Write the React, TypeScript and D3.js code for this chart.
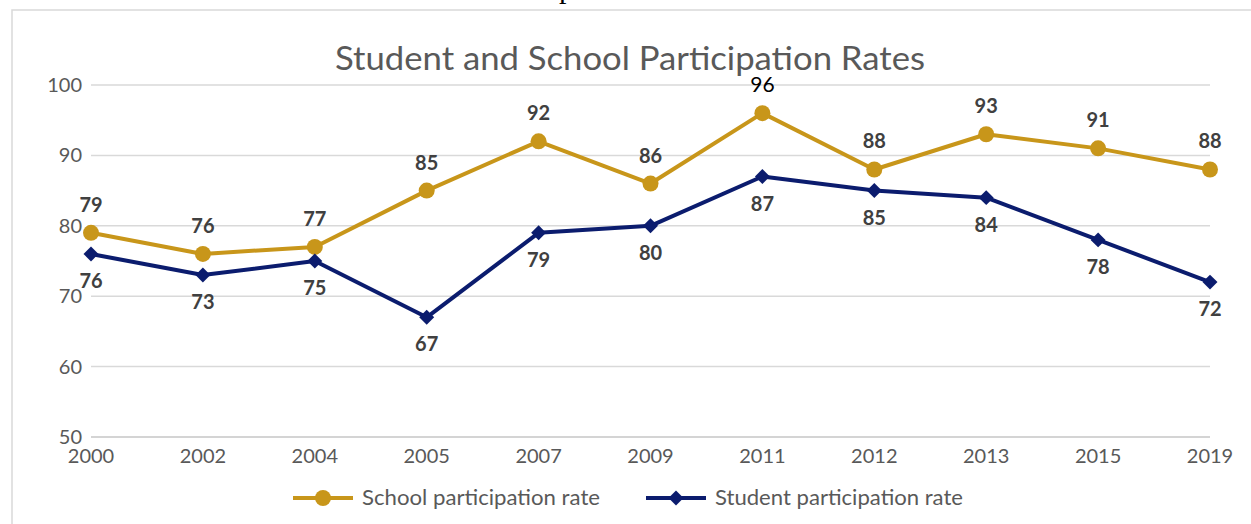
import React from "react";
import * as d3 from "d3";

const years = ["2000", "2002", "2004", "2005", "2007", "2009", "2011", "2012", "2013", "2015", "2019"];
const schoolRate = [79, 76, 77, 85, 92, 86, 96, 88, 93, 91, 88];
const studentRate = [76, 73, 75, 67, 79, 80, 87, 85, 84, 78, 72];
const yTicks = [50, 60, 70, 80, 90, 100];
const seriesNames = ["School participation rate", "Student participation rate"];
const title = "Student and School Participation Rates";

const GOLD = "#C8961A";
const NAVY = "#0B1C6E";
const FONT = "Lato, 'Open Sans', sans-serif";

export default function App() {
  const W = 1251, H = 524;
  const x = d3.scalePoint<string>().domain(years).range([91, 1210]);
  const y = d3.scaleLinear().domain([50, 100]).range([437, 85]);
  const line = d3.line<number>().x((_, i) => x(years[i])!).y((d) => y(d));
  const diamond = d3.symbol().type(d3.symbolSquare).size(112)();

  return (
    <svg width={W} height={H} style={{ position: "absolute", left: 0, top: 0, background: "#fff" }} fontFamily={FONT}>
      <text x={559} y={-2} fontFamily="'Liberation Serif', 'DejaVu Serif', serif" fontSize={30} fill="#000">p</text>
      <rect x={12} y={10} width={1300} height={600} fill="none" stroke="#d9d9d9" strokeWidth={1.5} />
      <text x={335} y={70} textLength={590} lengthAdjust="spacingAndGlyphs" fontSize={32} fill="#595959">{title}</text>
      {yTicks.map((t) => (
        <g key={t}>
          <line x1={91} x2={1210} y1={y(t)} y2={y(t)} stroke={t === 50 ? "#c6c6c6" : "#d9d9d9"} strokeWidth={1.5} />
          <text x={82} y={y(t) + 7} textAnchor="end" fontSize={20} fill="#595959">{t}</text>
        </g>
      ))}
      {years.map((yr) => (
        <text key={yr} x={x(yr)} y={463} textAnchor="middle" fontSize={20} fill="#595959">{yr}</text>
      ))}
      <path d={line(schoolRate)!} fill="none" stroke={GOLD} strokeWidth={4} strokeLinejoin="round" />
      <path d={line(studentRate)!} fill="none" stroke={NAVY} strokeWidth={4} strokeLinejoin="round" />
      {schoolRate.map((v, i) => (
        <circle key={"c" + i} cx={x(years[i])} cy={y(v)} r={8} fill={GOLD} />
      ))}
      {studentRate.map((v, i) => (
        <path key={"d" + i} d={diamond!} transform={`translate(${x(years[i])},${y(v)}) rotate(45)`} fill={NAVY} />
      ))}
      {schoolRate.map((v, i) => {
        const special = v === 96;
        return (
          <text key={"ls" + i} x={x(years[i])} y={y(v) - 21} textAnchor="middle" fontSize={special ? 21 : 20}
            fontWeight={special ? "normal" : "bold"} fill={special ? "#000" : "#404040"}>{v}</text>
        );
      })}
      {studentRate.map((v, i) => (
        <text key={"lt" + i} x={x(years[i])} y={y(v) + 34} textAnchor="middle" fontSize={20} fontWeight="bold" fill="#404040">{v}</text>
      ))}
      <g>
        <line x1={293} x2={353} y1={498} y2={498} stroke={GOLD} strokeWidth={4} />
        <circle cx={323} cy={498} r={8} fill={GOLD} />
        <text x={362} y={505} fontSize={21} textLength={238} lengthAdjust="spacingAndGlyphs" fill="#595959">{seriesNames[0]}</text>
        <line x1={646} x2={706} y1={498} y2={498} stroke={NAVY} strokeWidth={4} />
        <path d={diamond!} transform="translate(676,498) rotate(45)" fill={NAVY} />
        <text x={715} y={505} fontSize={21} textLength={248} lengthAdjust="spacingAndGlyphs" fill="#595959">{seriesNames[1]}</text>
      </g>
    </svg>
  );
}
